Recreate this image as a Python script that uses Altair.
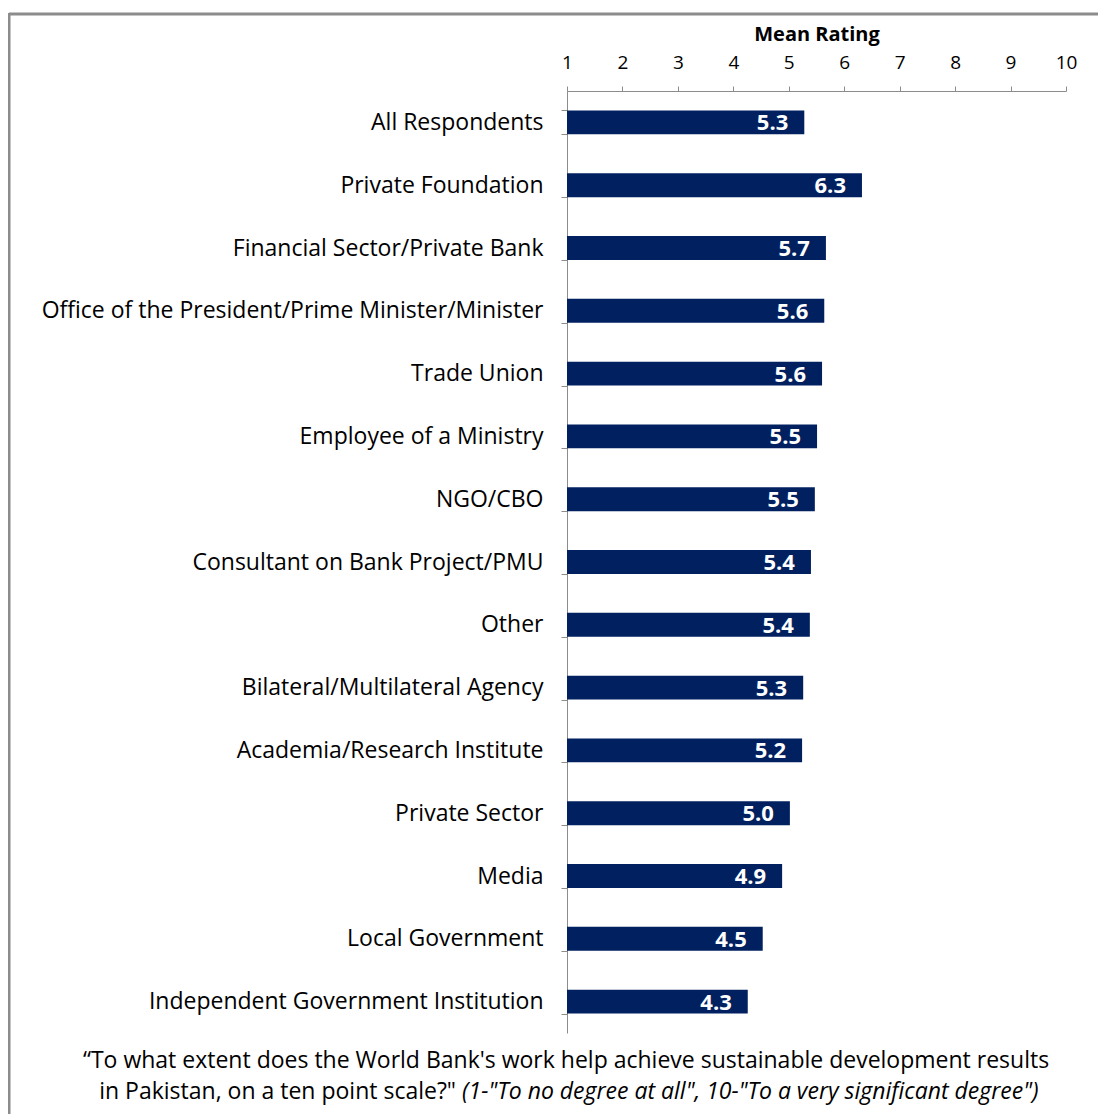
import altair as alt
import pandas as pd

categories = [
    "All Respondents",
    "Private Foundation",
    "Financial Sector/Private Bank",
    "Office of the President/Prime Minister/Minister",
    "Trade Union",
    "Employee of a Ministry",
    "NGO/CBO",
    "Consultant on Bank Project/PMU",
    "Other",
    "Bilateral/Multilateral Agency",
    "Academia/Research Institute",
    "Private Sector",
    "Media",
    "Local Government",
    "Independent Government Institution",
]
values = [5.28, 6.32, 5.67, 5.64, 5.60, 5.51, 5.47, 5.40, 5.38, 5.26, 5.24, 5.02, 4.88, 4.53, 4.26]
value_labels = ["5.3", "6.3", "5.7", "5.6", "5.6", "5.5", "5.5", "5.4", "5.4", "5.3", "5.2", "5.0", "4.9", "4.5", "4.3"]
x_ticks = [1, 2, 3, 4, 5, 6, 7, 8, 9, 10]
axis_title = "Mean Rating"
note_line1 = "\u201cTo what extent does the World Bank's work help achieve sustainable development results"
note_line2a = "in Pakistan, on a ten point scale?\""
note_line2b = "(1-\"To no degree at all\", 10-\"To a very significant degree\")"

FONT = "Open Sans"
df = pd.DataFrame({"cat": categories, "value": values, "label": value_labels})

y_enc = alt.Y(
    "cat:N",
    sort=categories,
    title=None,
    scale=alt.Scale(paddingInner=0.62, paddingOuter=0.31),
    axis=alt.Axis(
        tickBand="extent",
        tickSize=6,
        tickColor="#8c8c8c",
        domainColor="#8c8c8c",
        labelPadding=18,
        labelLimit=700,
        labelFontSize=23,
        labelFont=FONT,
        labelColor="#000000",
    ),
)
x_enc = alt.X(
    "value:Q",
    scale=alt.Scale(domain=[1, 10], nice=False, zero=False),
    axis=alt.Axis(
        orient="top",
        values=x_ticks,
        format="d",
        grid=False,
        labelFlush=False,
        tickSize=5,
        tickColor="#8c8c8c",
        domainColor="#8c8c8c",
        labelFontSize=19,
        labelFont=FONT,
        labelColor="#000000",
        labelPadding=14,
        title=axis_title,
        titleFont=FONT,
        titleFontSize=20,
        titleFontWeight="bold",
        titleColor="#000000",
        titlePadding=9,
    ),
)

bars = alt.Chart(df).mark_bar(color="#002060").encode(
    y=y_enc, x=x_enc, x2=alt.datum(1)
)
texts = alt.Chart(df).mark_text(
    align="right", baseline="middle", dx=-16, dy=1, color="white",
    font=FONT, fontSize=22, fontWeight="bold"
).encode(y=alt.Y("cat:N", sort=categories), x="value:Q", text="label:N")

notes1 = alt.Chart(pd.DataFrame({"t": [note_line1]})).mark_text(
    align="center", baseline="middle", font=FONT, fontSize=23, color="#000000"
).encode(x=alt.value(-1), y=alt.value(970), text="t:N")
notes2a = alt.Chart(pd.DataFrame({"t": [note_line2a]})).mark_text(
    align="right", baseline="middle", font=FONT, fontSize=23, color="#000000"
).encode(x=alt.value(-111), y=alt.value(1001), text="t:N")
notes2b = alt.Chart(pd.DataFrame({"t": [note_line2b]})).mark_text(
    align="left", baseline="middle", font=FONT, fontSize=23, fontStyle="italic", color="#000000"
).encode(x=alt.value(-105), y=alt.value(1001), text="t:N")

frame_top = alt.Chart(pd.DataFrame({"a": [0]})).mark_rule(color="#8c8c8c", strokeWidth=3).encode(
    x=alt.value(-558), x2=alt.value(560), y=alt.value(-77)
)
frame_left = alt.Chart(pd.DataFrame({"a": [0]})).mark_rule(color="#8c8c8c", strokeWidth=3).encode(
    x=alt.value(-558), y=alt.value(-78), y2=alt.value(1100)
)

chart = alt.layer(frame_top, frame_left, bars, texts, notes1, notes2a, notes2b).properties(
    width=499,
    height=942,
    autosize=alt.AutoSizeParams(type="none"),
    padding={"left": 559, "top": 83, "right": 32, "bottom": 82},
).configure_view(strokeWidth=0)

chart.save("out.html", embed_options={"renderer": "svg", "actions": False})
